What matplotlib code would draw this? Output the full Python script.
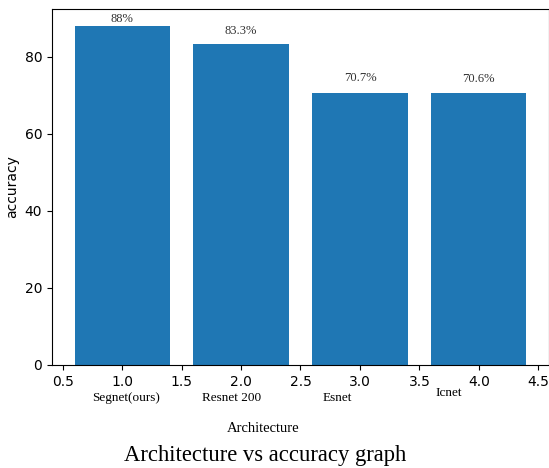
import matplotlib
matplotlib.use("Agg")
import matplotlib.pyplot as plt

positions = [1, 2, 3, 4]
accuracy = [88, 83.3, 70.7, 70.6]
value_labels = ["88%", "83.3%", "70.7%", "70.6%"]
arch_names = ["Segnet(ours)", "Resnet 200", "Esnet", "Icnet"]

# style: label offsets (points) as placed in the original
value_pad = [1, 5, 6, 6]
name_dx = [3, -7, -16, -22]
name_dy = [0, 0, 0, 4]

W, H = 549, 468
fig = plt.figure(figsize=(W / 100, H / 100), dpi=100)
ax = fig.add_axes([52 / W, (H - 365) / H, (W - 52) / W, 356 / H])
ax.bar(positions, accuracy, width=0.8, color="#1f77b4")
ax.set_ylabel("accuracy", fontsize=10)
ax.set_yticks([0, 20, 40, 60, 80])
ax.set_xticks([0.5, 1.0, 1.5, 2.0, 2.5, 3.0, 3.5, 4.0, 4.5])
ax.tick_params(labelsize=10)

serif = ["Liberation Serif", "DejaVu Serif"]
for x, v, lab, pad in zip(positions, accuracy, value_labels, value_pad):
    ax.annotate(lab, (x, v), xytext=(0, pad), textcoords="offset points",
                ha="center", va="bottom", fontsize=9, family=serif, color="#333333")

for x, name, dx, dy in zip(positions, arch_names, name_dx, name_dy):
    ax.annotate(name, (x, 0), xycoords=("data", "axes fraction"),
                xytext=(dx, -24 + dy), textcoords="offset points",
                ha="center", va="center", fontsize=9.5, family=serif)

fig.text(263 / W, 1 - 429 / H, "Architecture", ha="center", va="center",
         fontsize=10.5, family=serif)
fig.text(265 / W, 1 - 455 / H, "Architecture vs accuracy graph", ha="center",
         va="center", fontsize=16.3, family=serif)

fig.savefig("out.png", dpi=100)
